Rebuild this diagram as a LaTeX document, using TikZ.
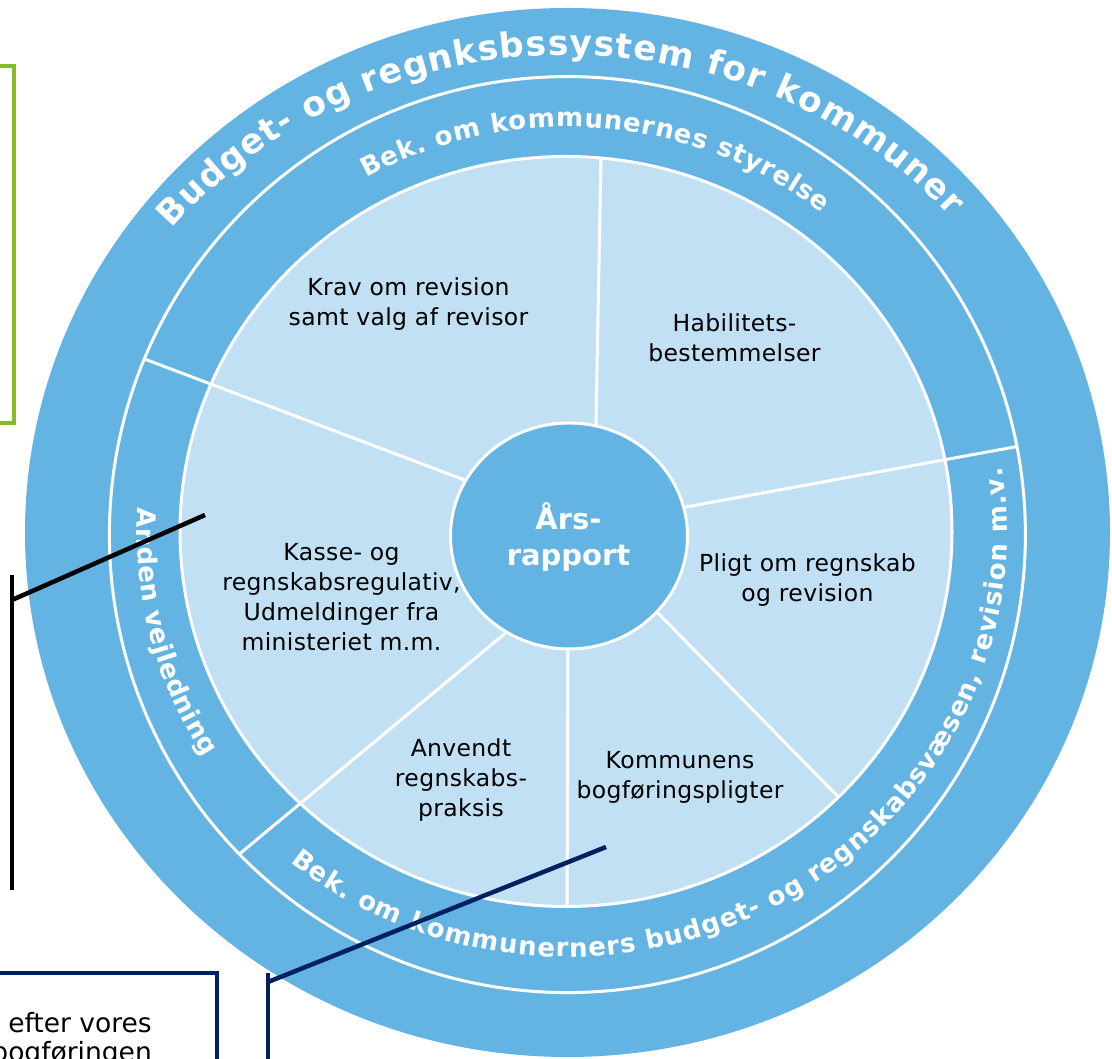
\documentclass[tikz,border=0pt]{standalone}
\usepackage{fontspec}
\setmainfont{DejaVu Sans}
\newfontfamily\sectorfont[LetterSpace=1.5]{DejaVu Sans}
\newfontfamily\hubfont{DejaVu Sans Bold}
\usetikzlibrary{calc,decorations.text}
\definecolor{ringblue}{HTML}{63B3E3}
\definecolor{paleblue}{HTML}{C1E0F4}
\definecolor{calloutnavy}{HTML}{002060}
\definecolor{framegreen}{HTML}{84BD26}
\newcommand\ringbig{\bfseries\fontsize{34.5}{34.5}\selectfont}
\newcommand\ringsmall{\bfseries\fontsize{26}{26}\selectfont}
\tikzset{
  sector/.style={align=center, font=\sectorfont\fontsize{23.5}{30}\selectfont},
  hub/.style={align=center, text=white, font=\hubfont\fontsize{29}{36}\selectfont},
  boxnote/.style={anchor=base east, inner sep=0pt, font=\fontsize{26.5}{30}\selectfont},
  divider/.style={draw=white, line width=3pt},
  ringtext/.style={decorate, decoration={text along path, text align={fit to path}, text color=white}},
  callout/.style={line width=4.5pt}
}

\begin{document}
\begin{tikzpicture}[x=1pt, y=1pt]
  \useasboundingbox (0,0) rectangle (1112,1059);
  \clip (0,0) rectangle (1112,1059);
  \coordinate (hubc) at (567,526);

  % rings
  \fill[ringblue] (567.5,526.5) ellipse [x radius=542.5, y radius=524.5];
  \fill[paleblue] (566,527.5) ellipse [x radius=386, y radius=375];

  % spokes that stop at the pale disc
  \begin{scope}
    \clip (566,527.5) ellipse [x radius=386, y radius=375];
    \foreach \xa/\ya/\xb/\yb in {595.8/625/601.3/919, 655/449/856/244, 568/416/567/140}
      {\draw[divider] (\xa,\ya) -- (\xb,\yb);}
  \end{scope}
  % spokes that run on through the middle ring
  \begin{scope}
    \clip (567.4,524.4) circle [radius=458];
    \foreach \xa/\ya/\xb/\yb in {472/576.2/110/713, 676/550.2/1042/617, 511/430.5/221/189.7}
      {\draw[divider] (\xa,\ya) -- (\xb,\yb);}
  \end{scope}
  \draw[divider] (567.4,524.4) circle [radius=458];
  \draw[divider] (566,527.5) ellipse [x radius=386, y radius=375];
  \filldraw[divider, fill=ringblue] (569,523) ellipse [x radius=118.5, y radius=113];

  \node[hub] (hub) at (568.5,522) {Års-\\rapport};
  \node[sector] (revisor) at (408.5,755) {Krav om revision\\samt valg af revisor};
  \node[sector] (habilitet) at (734.5,721) {Habilitets-\\bestemmelser};
  \node[sector] (pligt) at (807.5,478.5) {Pligt om regnskab\\og revision};
  \node[sector] (bogforing) at (680,282) {Kommunens\\bogføringspligter};
  \node[sector] (praksis) at (461,279) {Anvendt\\regnskabs-\\praksis};
  \node[sector] (regulativ) at (341.5,461.5) {Kasse- og\\regnskabsregulativ,\\Udmeldinger fra\\ministeriet m.m.};

  % lettering round the rings
  \path[ringtext, decoration={text={|\ringbig|Budget- og regnksbssystem for kommuner}}]
    ($(hubc)+(140.5:512 and 478)$) arc [start angle=140.5, end angle=41.5, x radius=512, y radius=478];
  \path[ringtext, decoration={text={|\ringsmall|Bek. om kommunernes styrelse}}]
    ($(hubc)+(119:414 and 406)$) arc [start angle=119, end angle=52, x radius=414, y radius=406];
  \path[ringtext, decoration={text={|\ringsmall|Anden vejledning}}]
    ($(hubc)+(176.5:430 and 418)$) arc [start angle=176.5, end angle=212.5, x radius=430, y radius=418];
  \path[ringtext, decoration={text={|\ringsmall|Bek. om kommunerners budget- og regnskabsvæsen, revision m.v.}}]
    ($(hubc)+(231:440 and 424)$) arc [start angle=231, end angle=369, x radius=440, y radius=424];

  % green frame, left
  \draw[framegreen, line width=4pt] (-10,636) rectangle (13.5,993);

  % black callout
  \coordinate (bartop) at (12,484);
  \coordinate (barfoot) at (12,169);
  \coordinate (barjoint) at (12,459);
  \coordinate (regulativtip) at (205,544);
  \draw[callout] (bartop) -- (barfoot);
  \draw[callout] (barjoint) -- (regulativtip);

  % navy note box and its callout
  \draw[calloutnavy, line width=4pt] (-10,-10) rectangle (216.5,86);
  \node[boxnote] (noteA) at (152,26) {efter vores};
  \node[boxnote] (noteB) at (152,-3) {bogføringen};
  \coordinate (navytop) at (268,86);
  \coordinate (navyfoot) at (268,-10);
  \coordinate (navyjoint) at (268,77);
  \coordinate (bogforingtip) at (606,212);
  \draw[callout, calloutnavy] (navytop) -- (navyfoot);
  \draw[callout, calloutnavy] (navyjoint) -- (bogforingtip);
\end{tikzpicture}
\end{document}
